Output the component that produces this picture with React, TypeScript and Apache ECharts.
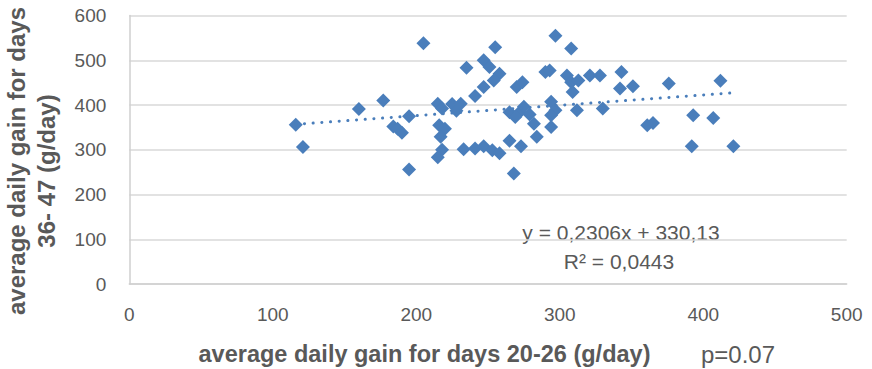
import React, { useEffect, useRef } from "react";
import * as echarts from "echarts";

// average daily gain for days 20-26 (g/day)
const gain20to26 = [
  116, 121, 160, 177, 184, 187, 190, 195, 195, 205,
  215, 218, 216, 220, 217, 218, 215, 225, 228, 231,
  233, 235, 241, 247, 251, 255, 258, 254, 247, 241,
  247, 253, 258, 265, 268, 273, 265, 272, 269, 275,
  279, 282, 284, 270, 274, 290, 293, 297, 308, 294,
  297, 294, 294, 305, 308, 313, 309, 312, 321, 328,
  330, 343, 342, 351, 361, 365, 376, 412, 393, 407,
  392, 421,
];
// average daily gain for days 36-47 (g/day)
const gain36to47 = [
  356, 306, 391, 410, 352, 347, 338, 375, 256, 538,
  403, 392, 355, 347, 329, 300, 283, 402, 387, 403,
  301, 483, 420, 500, 485, 529, 470, 455, 440, 303,
  308, 299, 292, 320, 247, 308, 384, 384, 373, 396,
  379, 358, 329, 440, 451, 474, 477, 555, 526, 407,
  388, 377, 351, 466, 451, 455, 429, 388, 466, 466,
  392, 474, 437, 442, 355, 360, 448, 454, 377, 371,
  308, 308,
];

const trendSlope = 0.2306;
const trendIntercept = 330.13;
const equationText = "y = 0,2306x + 330,13";
const r2Text = "R² = 0,0443";
const xTitle = "average daily gain for days 20-26 (g/day)";
const yTitleLine1 = "average daily gain for days";
const yTitleLine2 = "36- 47 (g/day)";
const pText = "p=0.07";

const xMin = 0, xMax = 500, xStep = 100;
const yMin = 0, yMax = 600, yStep = 100;

const MARK = "#4A7EBB";
const TEXT = "#595959";
const FONT = '"Liberation Sans", Arial, sans-serif';

export default function App() {
  const ref = useRef<HTMLDivElement>(null);
  useEffect(() => {
    document.body.style.margin = "0";
    const chart = echarts.init(ref.current!, null, { renderer: "svg" });
    const points = gain20to26.map((x, i) => [x, gain36to47[i]]);
    const lo = Math.min(...gain20to26);
    const hi = Math.max(...gain20to26);
    const trend = [
      [lo, trendSlope * lo + trendIntercept],
      [hi, trendSlope * hi + trendIntercept],
    ];
    chart.setOption({
      animation: false,
      grid: { left: 129.3, right: 25.3, top: 15.5, bottom: 85, containLabel: false },
      xAxis: {
        type: "value",
        min: xMin,
        max: xMax,
        interval: xStep,
        axisLine: { show: true, lineStyle: { color: "#CFCFCF", width: 1.5 } },
        axisTick: { show: false },
        splitLine: { show: false },
        axisLabel: { color: TEXT, fontSize: 19, fontFamily: FONT, margin: 21 },
      },
      yAxis: {
        type: "value",
        min: yMin,
        max: yMax,
        interval: yStep,
        axisLine: { show: true, lineStyle: { color: "#CFCFCF", width: 1.5 } },
        axisTick: { show: false },
        splitLine: { show: true, lineStyle: { color: "#D9D9D9", width: 1.5 } },
        axisLabel: { color: TEXT, fontSize: 19, fontFamily: FONT, margin: 23 },
      },
      series: [
        {
          type: "line",
          data: trend,
          symbol: "none",
          showSymbol: false,
          lineStyle: { color: MARK, width: 3, type: [0.1, 8.6], cap: "round" },
          z: 3,
        },
        {
          type: "scatter",
          data: points,
          symbol: "diamond",
          symbolSize: 14,
          itemStyle: { color: MARK, opacity: 1 },
          z: 2,
        },
      ],
      graphic: [
        {
          type: "text",
          x: 16.6,
          y: 161,
          rotation: Math.PI / 2,
          style: {
            text: yTitleLine1,
            fill: TEXT,
            font: `bold 24px ${FONT}`,
            align: "center",
            verticalAlign: "middle",
          },
        },
        {
          type: "text",
          x: 46.6,
          y: 171,
          rotation: Math.PI / 2,
          style: {
            text: yTitleLine2,
            fill: TEXT,
            font: `bold 24px ${FONT}`,
            align: "center",
            verticalAlign: "middle",
          },
        },
        {
          type: "text",
          x: 424.5,
          y: 354,
          style: {
            text: xTitle,
            fill: TEXT,
            font: `bold 23.5px ${FONT}`,
            align: "center",
            verticalAlign: "middle",
          },
        },
        {
          type: "text",
          x: 738,
          y: 354,
          style: {
            text: pText,
            fill: TEXT,
            font: `24px ${FONT}`,
            align: "center",
            verticalAlign: "middle",
          },
        },
        {
          type: "text",
          x: 621,
          y: 232,
          style: {
            text: equationText,
            fill: TEXT,
            font: `21px ${FONT}`,
            align: "center",
            verticalAlign: "middle",
          },
        },
        {
          type: "text",
          x: 619,
          y: 261,
          style: {
            text: r2Text,
            fill: TEXT,
            font: `21px ${FONT}`,
            align: "center",
            verticalAlign: "middle",
          },
        },
      ],
    });
    return () => chart.dispose();
  }, []);
  return <div ref={ref} style={{ width: 872, height: 369 }} />;
}
